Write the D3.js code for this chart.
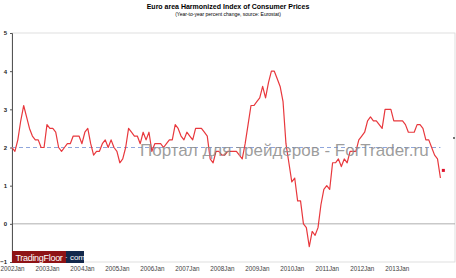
<html lang="en">
  <head>
    <meta charset="utf-8">
    <title>Euro area HICP</title>
    <script src="https://d3js.org/d3.v7.min.js"></script>
    <style>
      body { margin: 0; background: #fff; }
      text { font-family: "Liberation Sans", Arial, sans-serif; }
    </style>
  </head>
  <body>
    <script type="text/javascript">
      var w = 456;
      var h = 278;
      var margin = {top: 33, right: 1, bottom: 16, left: 12};

      // monthly y/y change, one value per month, first month under "2002Jan"
      var hicp = [
        2.0,1.9,2.2,2.7,3.1,2.8,2.5,2.3,2.2,2.2,2.0,2.0,
        2.6,2.5,2.5,2.4,2.0,1.9,2.0,2.1,2.1,2.3,2.3,2.3,
        2.1,2.4,2.5,2.1,1.8,1.9,1.9,2.1,2.2,2.0,2.2,2.0,
        1.9,1.6,1.7,2.0,2.5,2.4,2.3,2.3,2.1,2.4,2.2,2.4,
        1.9,2.1,2.1,2.1,2.0,2.1,2.2,2.2,2.6,2.5,2.3,2.2,
        2.4,2.3,2.2,2.5,2.5,2.5,2.4,2.3,1.7,1.6,1.9,1.9,
        1.8,1.8,1.9,1.9,1.9,1.9,1.8,1.7,2.1,2.6,3.1,3.1,
        3.2,3.3,3.6,3.3,3.7,4.0,4.0,3.8,3.6,3.2,2.1,1.6,
        1.1,1.2,0.6,0.6,0.0,-0.1,-0.6,-0.2,-0.3,-0.1,0.5,0.9,
        1.0,0.9,1.6,1.6,1.7,1.5,1.7,1.6,1.9,1.9,1.9,2.2,
        2.3,2.4,2.7,2.8,2.7,2.7,2.6,2.5,3.0,3.0,3.0,2.7,
        2.7,2.7,2.7,2.6,2.4,2.4,2.4,2.6,2.6,2.5,2.2,2.2,
        2.0,1.8,1.7,1.2
      ];
      var flash = [{month: 148, value: 1.4}];
      var target = 2;
      var xTickLabels = ["2002Jan","2003Jan","2004Jan","2005Jan","2006Jan","2007Jan",
                         "2008Jan","2009Jan","2010Jan","2011Jan","2012Jan","2013Jan"];
      var yTicks = [-1, 0, 1, 2, 3, 4, 5];

      var xScale = d3.scaleLinear()
                     .domain([0, 152])
                     .range([margin.left, w - margin.right]);
      var yScale = d3.scaleLinear()
                     .domain([-1, 5])
                     .range([h - margin.bottom, margin.top]);

      var svg = d3.select("body")
                  .append("svg")
                  .attr("width", w)
                  .attr("height", h);

      // titles
      svg.append("text")
         .attr("x", 228).attr("y", 9)
         .attr("text-anchor", "middle")
         .style("font-size", "7px").style("font-weight", "bold")
         .text("Euro area Harmonized Index of Consumer Prices");
      svg.append("text")
         .attr("x", 228).attr("y", 16)
         .attr("text-anchor", "middle")
         .style("font-size", "5px")
         .text("(Year-to-year percent change, source: Eurostat)");

      // frame
      svg.append("rect")
         .attr("x", margin.left).attr("y", margin.top)
         .attr("width", w - margin.right - margin.left)
         .attr("height", h - margin.bottom - margin.top)
         .attr("fill", "none").attr("stroke", "#d8d8d8").attr("stroke-width", 0.8);

      // zero line
      svg.append("line")
         .attr("x1", margin.left).attr("x2", w - margin.right)
         .attr("y1", yScale(0)).attr("y2", yScale(0))
         .attr("stroke", "#9a9a9a").attr("stroke-width", 0.8);

      // y axis
      var yAxis = d3.axisLeft(yScale).tickValues(yTicks).tickFormat(d3.format("d"))
                    .tickSize(2).tickPadding(3);
      var gy = svg.append("g")
         .attr("transform", `translate(${margin.left},0)`)
         .call(yAxis);
      gy.select(".domain").attr("stroke", "#555");
      gy.selectAll(".tick line").attr("stroke", "#555");
      gy.selectAll("text")
        .style("font-size", "6px").style("font-weight", "bold")
        .style("font-family", "'Liberation Sans', Arial, sans-serif")
        .attr("fill", "#222");

      // x axis labels
      var xAxis = d3.axisBottom(xScale)
                    .tickValues(xTickLabels.map((d, i) => i * 12))
                    .tickFormat((d, i) => xTickLabels[i])
                    .tickSize(0).tickPadding(5);
      var gx = svg.append("g")
         .attr("transform", `translate(0,${h - margin.bottom})`)
         .call(xAxis);
      gx.select(".domain").remove();
      gx.selectAll("text")
        .style("font-size", "6.3px")
        .style("font-family", "'Liberation Sans', Arial, sans-serif")
        .attr("fill", "#444");

      // target line
      svg.append("line")
         .attr("x1", xScale(0)).attr("x2", xScale(hicp.length - 1))
         .attr("y1", yScale(target)).attr("y2", yScale(target))
         .attr("stroke", "#8fa6dc").attr("stroke-width", 1)
         .attr("stroke-dasharray", "4,3");

      // series
      var line = d3.line()
                   .x((d, i) => xScale(i))
                   .y(d => yScale(d));
      svg.append("path")
         .datum(hicp)
         .attr("d", line)
         .attr("fill", "none")
         .attr("stroke", "#e8383d")
         .attr("stroke-width", 1.2)
         .attr("stroke-linejoin", "round");

      svg.selectAll(".flash")
         .data(flash)
         .enter()
         .append("rect")
         .attr("class", "flash")
         .attr("x", d => xScale(d.month) - 1.5)
         .attr("y", d => yScale(d.value) - 1.5)
         .attr("width", 3).attr("height", 3)
         .attr("fill", "#e0102a");

      svg.append("circle")
         .attr("cx", 454).attr("cy", 138).attr("r", 0.9)
         .attr("fill", "#333");

      // watermark
      svg.append("text")
         .attr("x", 140).attr("y", 156)
         .style("font-size", "17px")
         .style("font-family", "'Liberation Sans', Arial, sans-serif")
         .attr("fill", "#8c8c8c").attr("fill-opacity", 0.85)
         .text("Портал для трейдеров - ForTrader.ru");

      // logo
      var logo = svg.append("g").attr("transform", `translate(${margin.left},251)`);
      logo.append("rect").attr("width", 54).attr("height", 12).attr("fill", "#8e1316");
      logo.append("rect").attr("x", 54).attr("width", 18).attr("height", 12).attr("fill", "#13284b");
      logo.append("text").attr("x", 27).attr("y", 9.5).attr("text-anchor", "middle")
          .style("font-size", "9px").style("letter-spacing", "-0.3px")
          .attr("fill", "#fff").text("TradingFloor");
      logo.append("text").attr("x", 63).attr("y", 9).attr("text-anchor", "middle")
          .style("font-size", "8px").attr("fill", "#fff").text("· com");
    </script>
  </body>
</html>
